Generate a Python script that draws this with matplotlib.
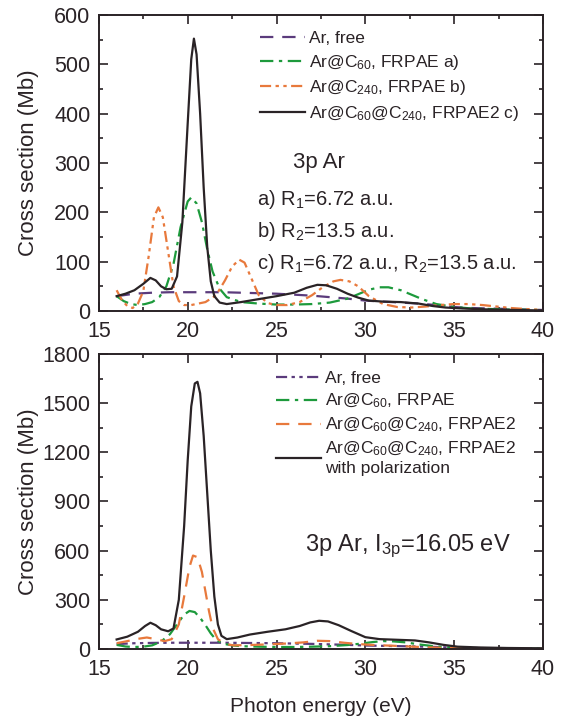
import matplotlib
matplotlib.use("Agg")
import matplotlib.pyplot as plt
from matplotlib.ticker import MultipleLocator

plt.rcParams['font.family'] = ['Liberation Sans', 'DejaVu Sans']
plt.rcParams['mathtext.fontset'] = 'custom'
plt.rcParams['mathtext.rm'] = 'Liberation Sans'
plt.rcParams['mathtext.it'] = 'Liberation Sans'

PURPLE = '#5b3b7c'
GREEN = '#1d9a3c'
ORANGE = '#e8793c'
BLACK = '#2a2326'

# ---------- Top panel data ----------
free_x = [16, 17, 18, 19, 20, 21, 22, 23, 24, 25, 26, 27, 28, 29, 30, 31, 32, 33, 34, 35, 36, 37, 38, 40]
free_y = [30, 35, 37, 38, 38, 38, 38, 37, 36, 35, 33, 31, 28, 25, 21, 19, 17, 15, 12, 8, 6, 5, 4, 2]

c60_x = [16, 16.4, 16.8, 17.2, 17.6, 18, 18.4, 18.8, 19.2, 19.6, 20.0, 20.2, 20.5, 20.8, 21.1, 21.4, 21.8, 22.2, 23, 24, 25, 26, 27, 28, 29, 29.6, 30.2, 30.8, 31.3, 32, 32.6, 33.2, 34, 35, 36, 37, 38, 40]
c60_y = [30, 20, 14, 12, 14, 18, 28, 50, 95, 170, 222, 230, 218, 180, 125, 80, 45, 28, 18, 15, 13, 13, 14, 17, 25, 34, 43, 48, 48, 42, 33, 24, 14, 8, 5, 4, 3, 2]

c240_x = [16, 16.3, 16.6, 16.9, 17.2, 17.5, 17.8, 18.1, 18.35, 18.6, 18.9, 19.2, 19.5, 19.8, 20.2, 21, 21.6, 22.1, 22.5, 22.9, 23.2, 23.6, 24, 24.5, 25, 25.6, 26.3, 27, 27.6, 28.2, 28.6, 29.1, 29.6, 30.2, 31, 31.8, 32.6, 33.4, 34.2, 35, 35.8, 36.6, 37.4, 38.2, 39, 40]
c240_y = [42, 22, 10, 6, 15, 40, 110, 190, 210, 190, 120, 50, 20, 12, 12, 18, 32, 62, 90, 104, 98, 65, 32, 16, 12, 12, 18, 32, 48, 60, 63, 60, 50, 30, 14, 8, 7, 9, 12, 14, 14, 12, 9, 6, 4, 2]

cc_x = [16, 16.5, 17, 17.5, 17.9, 18.2, 18.5, 18.8, 19.1, 19.4, 19.7, 20.0, 20.2, 20.35, 20.5, 20.7, 20.9, 21.1, 21.3, 21.5, 21.8, 22.2, 23, 24, 25, 26, 26.7, 27.3, 27.8, 28.4, 29, 29.6, 30.2, 31, 32, 33, 33.8, 34.5, 35.5, 37, 40]
cc_y = [30, 35, 42, 55, 67, 62, 50, 44, 45, 70, 180, 380, 510, 552, 520, 400, 250, 130, 60, 30, 17, 14, 18, 24, 30, 37, 47, 53, 52, 45, 35, 27, 21, 19, 18, 15, 10, 7, 5, 3, 1]

# ---------- Bottom panel data ----------
free2_x = [16, 17, 18, 19, 20, 21, 22, 23, 24, 25, 26, 27, 28, 29, 30, 31, 32, 33, 34, 35, 36, 37, 38, 40]
free2_y = [30, 35, 37, 38, 38, 38, 38, 37, 36, 35, 33, 31, 28, 25, 21, 19, 17, 15, 12, 8, 6, 5, 4, 2]

c60b_x = [16, 16.5, 17, 17.5, 18, 18.5, 19, 19.4, 19.8, 20.1, 20.4, 20.7, 21.0, 21.3, 21.6, 22, 22.5, 23, 24, 25, 26, 27, 28, 29, 29.7, 30.4, 31, 31.6, 32.3, 33, 34, 35, 36, 38, 40]
c60b_y = [25, 15, 12, 14, 22, 45, 90, 150, 210, 232, 225, 190, 145, 95, 55, 32, 22, 17, 14, 12, 12, 14, 17, 24, 32, 42, 48, 46, 40, 28, 15, 8, 5, 3, 2]

cc2_x = [16, 16.6, 17.2, 17.7, 18.2, 18.7, 19.1, 19.5, 19.8, 20.1, 20.3, 20.55, 20.8, 21.0, 21.2, 21.4, 21.7, 22.1, 22.6, 23.5, 24.5, 25.5, 26.5, 27.3, 28, 28.8, 29.6, 30.5, 31.5, 32.5, 33.5, 34.5, 35.5, 37, 40]
cc2_y = [35, 48, 62, 70, 60, 48, 60, 150, 320, 500, 570, 560, 470, 350, 230, 130, 60, 30, 22, 24, 28, 33, 40, 50, 48, 38, 30, 24, 20, 15, 10, 6, 4, 2, 1]

pol_x = [16, 16.6, 17.2, 17.6, 17.9, 18.2, 18.5, 18.9, 19.2, 19.5, 19.8, 20.0, 20.2, 20.4, 20.55, 20.7, 20.9, 21.1, 21.3, 21.5, 21.7, 21.9, 22.2, 22.8, 23.5, 24.5, 25.5, 26.3, 26.9, 27.4, 27.9, 28.5, 29.2, 30, 30.8, 31.8, 32.8, 33.6, 34.4, 35.2, 36.5, 38, 40]
pol_y = [58, 75, 105, 140, 160, 145, 120, 108, 125, 300, 750, 1150, 1480, 1620, 1630, 1560, 1300, 950, 600, 320, 150, 80, 60, 70, 88, 105, 120, 140, 162, 172, 168, 145, 110, 72, 60, 56, 52, 40, 25, 14, 9, 6, 4]

fig = plt.figure(figsize=(5.65, 7.19), dpi=100)
ax1 = fig.add_axes([0.175, 0.5675, 0.786, 0.4117])
ax2 = fig.add_axes([0.175, 0.0974, 0.786, 0.4103])

LW = 1.6
ax1.plot(free_x, free_y, color=PURPLE, lw=LW, dashes=(6, 4), label='Ar, free')
ax1.plot(c60_x, c60_y, color=GREEN, lw=LW, dashes=(6, 2.5, 1.5, 2.5), label='Ar@C$_{60}$, FRPAE a)')
ax1.plot(c240_x, c240_y, color=ORANGE, lw=LW, dashes=(5, 2, 1.5, 2, 1.5, 2), label='Ar@C$_{240}$, FRPAE b)')
ax1.plot(cc_x, cc_y, color=BLACK, lw=LW, label='Ar@C$_{60}$@C$_{240}$, FRPAE2 c)')

ax2.plot(free2_x, free2_y, color=PURPLE, lw=LW, dashes=(5, 2, 1.5, 2, 1.5, 2), label='Ar, free')
ax2.plot(c60b_x, c60b_y, color=GREEN, lw=LW, dashes=(6, 2.5, 1.5, 2.5), label='Ar@C$_{60}$, FRPAE')
ax2.plot(cc2_x, cc2_y, color=ORANGE, lw=LW, dashes=(6, 4), label='Ar@C$_{60}$@C$_{240}$, FRPAE2')
ax2.plot(pol_x, pol_y, color=BLACK, lw=LW, label='Ar@C$_{60}$@C$_{240}$, FRPAE2\nwith polarization')

ax1.set_xlim(15, 40)
ax1.set_ylim(0, 600)
ax2.set_xlim(15, 40)
ax2.set_ylim(0, 1800)
ax1.yaxis.set_major_locator(MultipleLocator(100))
ax1.yaxis.set_minor_locator(MultipleLocator(50))
ax2.yaxis.set_major_locator(MultipleLocator(300))
ax2.yaxis.set_minor_locator(MultipleLocator(150))
for ax in (ax1, ax2):
    ax.xaxis.set_major_locator(MultipleLocator(5))
    ax.xaxis.set_minor_locator(MultipleLocator(2.5))
    ax.tick_params(which='both', direction='in', top=True, right=True, labelsize=15.5, width=1.2, colors=BLACK)
    ax.tick_params(which='major', length=6.5)
    ax.tick_params(axis='y', which='both', pad=6)
    ax.tick_params(axis='x', which='both', pad=7)
    ax.tick_params(which='minor', length=3.2)
    for s in ax.spines.values():
        s.set_linewidth(1.4)
        s.set_color(BLACK)
    ax.set_ylabel('Cross section (Mb)', fontsize=16, color=BLACK)
    ax.yaxis.set_label_coords(-0.135, 0.5)

ax2.set_xlabel('Photon energy (eV)', fontsize=15, color=BLACK)
ax2.xaxis.set_label_coords(0.5, -0.162)

leg1 = ax1.legend(loc='upper left', bbox_to_anchor=(0.355, 0.958), frameon=False, fontsize=12.5,
                  handlelength=2.6, handletextpad=0.25, labelspacing=0.38, borderaxespad=0, borderpad=0.2)
leg2 = ax2.legend(loc='upper left', bbox_to_anchor=(0.39, 0.953), frameon=False, fontsize=12.5,
                  handlelength=2.6, handletextpad=0.25, labelspacing=0.32, borderaxespad=0, borderpad=0.2)
for leg in (leg1, leg2):
    for t in leg.get_texts():
        t.set_color(BLACK)

ax1.text(0.437, 0.50, '3p Ar', transform=ax1.transAxes, fontsize=16, color=BLACK, va='center')
ax1.text(0.356, 0.378, 'a) R$_1$=6.72 a.u.', transform=ax1.transAxes, fontsize=14.5, color=BLACK, va='center')
ax1.text(0.356, 0.267, 'b) R$_2$=13.5 a.u.', transform=ax1.transAxes, fontsize=14.5, color=BLACK, va='center')
ax1.text(0.356, 0.162, 'c) R$_1$=6.72 a.u., R$_2$=13.5 a.u.', transform=ax1.transAxes, fontsize=14.5, color=BLACK, va='center')

ax2.text(0.464, 0.349, '3p Ar, I$_{3p}$=16.05 eV', transform=ax2.transAxes, fontsize=17, color=BLACK, va='center')

fig.savefig('out.png', dpi=100)
